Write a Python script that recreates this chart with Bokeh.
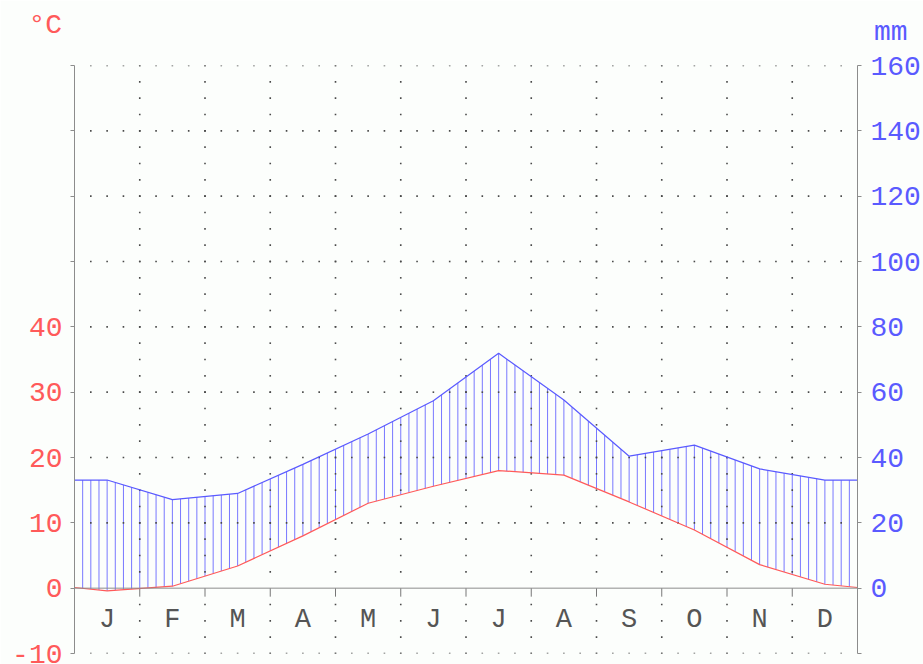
import numpy as np
from bokeh.plotting import figure
from bokeh.models import LinearAxis, Range1d, FixedTicker, Span, Title
from bokeh.embed import file_html
from bokeh.resources import INLINE
from bokeh.core.properties import value

# ---- data ----
months = ["J", "F", "M", "A", "M", "J", "J", "A", "S", "O", "N", "D"]
temp = [-0.4, 0.3, 3.4, 8.0, 13.0, 15.6, 18.0, 17.3, 13.2, 8.9, 3.6, 0.6]        # °C
prec = [33.1, 27.1, 29.0, 37.9, 47.2, 57.4, 71.9, 57.6, 40.4, 43.8, 36.5, 33.1]  # mm
temp_edge = 0.1    # value drawn at the year's edges (Dec/Jan mean)
prec_edge = 33.1

temp_ticks = [-10, 0, 10, 20, 30, 40, 50, 60, 70, 80]
temp_tick_labels = ["-10", "0", "10", "20", "30", "40", "", "", "", ""]
prec_ticks = [-20, 0, 20, 40, 60, 80, 100, 120, 140, 160]
prec_tick_labels = ["", "0", "20", "40", "60", "80", "100", "120", "140", "160"]
grid_levels = [-10, 10, 20, 30, 40, 50, 60, 70, 80]
month_bounds = [1, 2, 3, 4, 5, 6, 7, 8, 9, 10, 11]

RED = "#FF5A5A"
BLUE = "#5A5AFF"
GRAY = "#8C8C8C"
DOT = "#4A4A4A"
BG = "#FCFEFC"
FONT = "Liberation Mono"

# ---- figure ----
p = figure(width=923, height=664, x_range=Range1d(0, 12), y_range=Range1d(-10, 80),
           output_backend="svg", toolbar_location=None,
           x_axis_location=None, y_axis_location=None,
           min_border_left=74, min_border_right=66, min_border_top=65, min_border_bottom=11)
p.extra_y_ranges = {"mm": Range1d(-20, 160)}
p.background_fill_color = BG
p.border_fill_color = BG
p.outline_line_color = None
p.xgrid.visible = False
p.ygrid.visible = False

left = LinearAxis(ticker=FixedTicker(ticks=temp_ticks),
                  major_label_overrides={t: s for t, s in zip(temp_ticks, temp_tick_labels)})
right = LinearAxis(y_range_name="mm", ticker=FixedTicker(ticks=prec_ticks),
                   major_label_overrides={t: s for t, s in zip(prec_ticks, prec_tick_labels)})
for ax, col, so in ((left, RED, 8), (right, BLUE, 9)):
    ax.axis_line_color = GRAY
    ax.major_tick_line_color = GRAY
    ax.minor_tick_line_color = None
    ax.major_tick_in = 0
    ax.major_tick_out = 4
    ax.major_label_standoff = so
    ax.major_label_text_color = col
    ax.major_label_text_font = FONT
    ax.major_label_text_font_size = "28px"
p.add_layout(left, "left")
p.add_layout(right, "right")

# ---- unit titles ----
t_mm = Title(text="mm", align="right", vertical_align="top", offset=-50, standoff=31,
             text_font=FONT, text_font_size="28px", text_font_style="normal", text_color=BLUE)
t_c = Title(text="°C", align="left", offset=-46, standoff=-78, text_font=FONT,
            text_font_size="28px", text_font_style="normal", text_color=RED)
p.add_layout(t_mm, "above")
p.add_layout(t_c, "above")

# ---- hatching between temperature and precipitation curves ----
cx = [0.0] + [i + 0.5 for i in range(len(months))] + [12.0]
t_curve = [temp_edge] + temp + [temp_edge]
p_curve = [prec_edge] + prec + [prec_edge]
hx = np.arange(0, 97) / 8.0
t_at = np.interp(hx, cx, t_curve)
p_at = np.interp(hx, cx, p_curve) / 2.0   # mm -> °C scale (10 °C = 20 mm)
p.segment(x0=hx, y0=t_at, x1=hx, y1=p_at, line_color="#7878FF", line_width=1)

# ---- dotted grid ----
hx_dots, hy_dots = [], []
for lev in grid_levels:
    for k in range(1, 48):
        hx_dots.append(k / 4.0)
        hy_dots.append(lev)
for b in month_bounds:
    for k in range(-4, 33):
        if k != 0:
            hx_dots.append(b)
            hy_dots.append(k * 2.5)
p.scatter(hx_dots, hy_dots, marker="square", size=1.6, color=DOT, line_width=0)

# zero line and month ticks
p.add_layout(Span(location=0, dimension="width", line_color=GRAY, line_width=1))
p.segment(x0=month_bounds, y0=[0] * len(month_bounds), x1=month_bounds,
          y1=[-1.3] * len(month_bounds), line_color="#777777", line_width=1)

# ---- curves ----
p.line(cx, t_curve, line_color=RED, line_width=1.2)
p.line(cx, p_curve, y_range_name="mm", line_color=BLUE, line_width=1.2)

# ---- month letters ----
p.text(x=[i + 0.5 for i in range(len(months))], y=[-4.9] * len(months), text=months,
       text_font=value(FONT), text_font_size="27px", text_color="#555555",
       text_align="center", text_baseline="middle")

open("out.html", "w").write(file_html(p, INLINE))
